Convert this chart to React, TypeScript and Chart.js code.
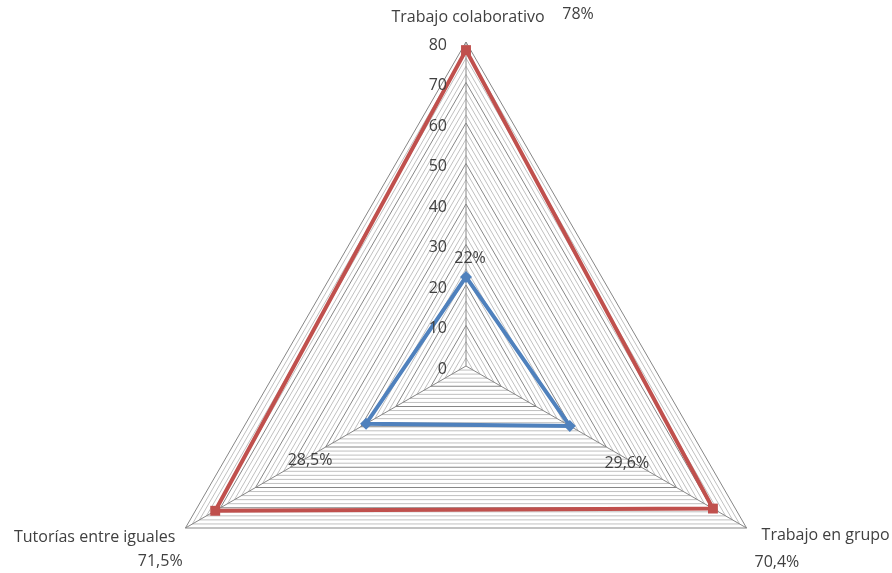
import React, { useEffect, useRef } from 'react';
import { Chart, registerables } from 'chart.js';

Chart.register(...registerables);

const categories = ['Trabajo colaborativo', 'Trabajo en grupo', 'Tutorías entre iguales'];
const blueValues = [22, 29.6, 28.5];
const redValues = [78, 70.4, 71.5];
const blueLabels = ['22%', '29,6%', '28,5%'];
const redLabels = ['78%', '70,4%', '71,5%'];
const tickLabels = [0, 10, 20, 30, 40, 50, 60, 70, 80];

const FONT = '16px "Open Sans", sans-serif';
const TEXT = '#404040';

const geometryPlugin = {
  id: 'geometry',
  afterLayout(chart: any) {
    const r = chart.scales.r;
    r.xCenter = 466;
    r.yCenter = 366;
    r.drawingArea = 324;
  },
};

const textPlugin = {
  id: 'texts',
  afterDatasetsDraw(chart: any) {
    const ctx = chart.ctx;
    const r = chart.scales.r;
    ctx.save();
    ctx.font = FONT;
    ctx.fillStyle = TEXT;
    ctx.textBaseline = 'middle';
    // tick labels
    ctx.textAlign = 'right';
    tickLabels.forEach((v) => {
      const p = r.getPointPositionForValue(0, v);
      ctx.fillText(String(v), p.x - 19, p.y + 3);
    });
    // category labels
    const catOff = [
      { dx: 2, dy: -25, align: 'center' },
      { dx: 15, dy: 7, align: 'left' },
      { dx: -10, dy: 9, align: 'right' },
    ];
    categories.forEach((c, i) => {
      const p = r.getPointPositionForValue(i, r.max);
      ctx.textAlign = catOff[i].align;
      ctx.fillText(c, p.x + catOff[i].dx, p.y + catOff[i].dy);
    });
    // data labels
    ctx.textAlign = 'center';
    const blueOff = [[4, -18], [57, 37], [-56, 37]];
    const redOff = [[112, -36], [64, 54], [-55, 51]];
    const m0 = chart.getDatasetMeta(0).data;
    const m1 = chart.getDatasetMeta(1).data;
    blueLabels.forEach((t, i) => {
      ctx.fillText(t, m0[i].x + blueOff[i][0], m0[i].y + blueOff[i][1]);
    });
    redLabels.forEach((t, i) => {
      ctx.fillText(t, m1[i].x + redOff[i][0], m1[i].y + redOff[i][1]);
    });
    ctx.restore();
  },
};

export default function App() {
  const ref = useRef<HTMLCanvasElement>(null);
  useEffect(() => {
    document.body.style.margin = '0';
    const chart = new Chart(ref.current!, {
      type: 'radar',
      data: {
        labels: categories,
        datasets: [
          {
            label: 'A',
            data: blueValues,
            borderColor: '#4F81BD',
            backgroundColor: '#4F81BD',
            borderWidth: 4,
            fill: false,
            pointStyle: 'rectRot',
            pointRadius: 6,
            pointBorderWidth: 0,
            pointBackgroundColor: '#4F81BD',
          },
          {
            label: 'B',
            data: redValues,
            borderColor: '#C0504D',
            backgroundColor: '#C0504D',
            borderWidth: 4,
            fill: false,
            pointStyle: 'rect',
            pointRadius: 7,
            pointBorderWidth: 0,
            pointBackgroundColor: '#C0504D',
          },
        ],
      },
      options: {
        animation: false,
        responsive: false,
        plugins: { legend: { display: false }, tooltip: { enabled: false } },
        scales: {
          r: {
            min: 0,
            max: 80,
            ticks: { stepSize: 2, display: false },
            pointLabels: { display: false },
            grid: {
              color: (c: any) => (c.tick && c.tick.value % 10 === 0 ? '#868686' : '#c0c0c0'),
              lineWidth: 1,
            },
            angleLines: { color: '#868686', lineWidth: 1 },
          },
        },
      },
      plugins: [geometryPlugin, textPlugin],
    });
    return () => chart.destroy();
  }, []);
  return (
    <div style={{ width: 892, height: 573, background: '#fff' }}>
      <canvas ref={ref} width={892} height={573} />
    </div>
  );
}
